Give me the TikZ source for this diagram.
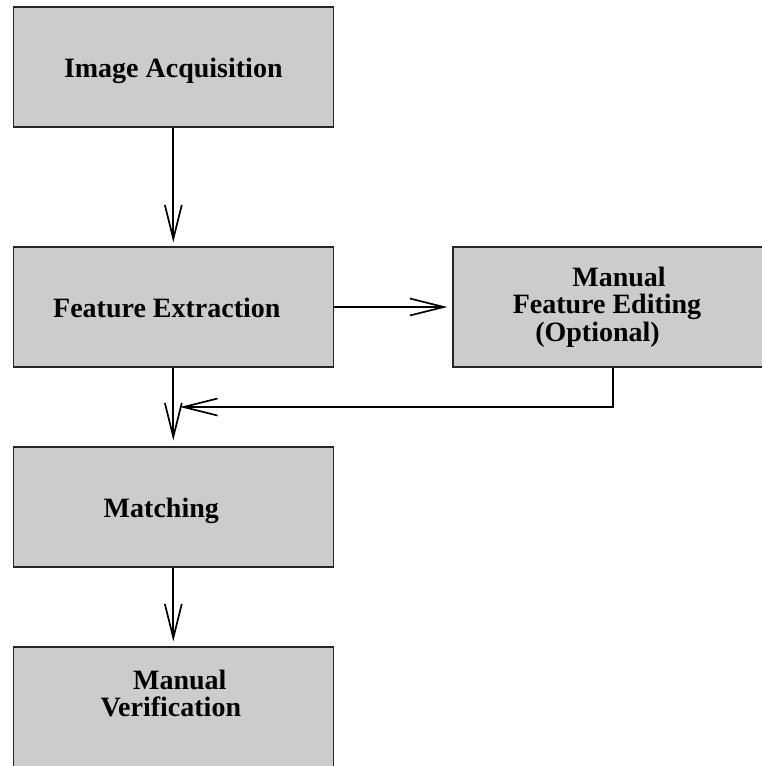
\documentclass[tikz,border=0pt]{standalone}
\usepackage{fontspec}
\setmainfont{Liberation Serif}
\usetikzlibrary{arrows.meta,positioning}

\begin{document}
\begin{tikzpicture}[x=1pt,y=-1pt,
  stage/.style={draw=black!85,line width=1.2pt,fill=black!20,minimum width=320pt,minimum height=120pt,
    align=center,font=\fontsize{28}{27.5}\selectfont\bfseries,inner sep=0pt},
  oneline/.style={text height=21pt,text depth=0pt},
  arr/.style={line width=1.7pt,-{Straight Barb[length=34pt,width=17pt]}}]
\useasboundingbox (0,0) rectangle (762,766);
\clip (0,0) rectangle (762,766);
\node[stage,oneline] (acq) at (173.3,67) {Image Acquisition};
\node[stage,oneline] (feat) at (173.3,307) {Feature Extraction\hspace*{13pt}\mbox{}};
\node[stage] (edit) at (613,307) {\hspace*{12pt}Manual\\Feature Editing\hspace*{12pt}\mbox{}\\(Optional)\hspace*{31pt}\mbox{}};
\node[stage,oneline] (match) at (173.3,507) {Matching\hspace*{24pt}\mbox{}};
\node[stage] (verif) at (173.3,707) {\hspace*{13pt}Manual\\Verification\hspace*{5pt}\mbox{}\\\mbox{}};
\coordinate (merge) at (180,407);
\draw[arr,shorten >=4pt] (acq) -- (feat);
\draw[arr,shorten >=5pt] (feat) -- (edit);
\draw[arr] (edit.south) |- (merge);
\draw[arr,shorten >=6pt] (feat) -- (match);
\draw[arr,shorten >=5pt] (match) -- (verif);
\end{tikzpicture}
\end{document}
